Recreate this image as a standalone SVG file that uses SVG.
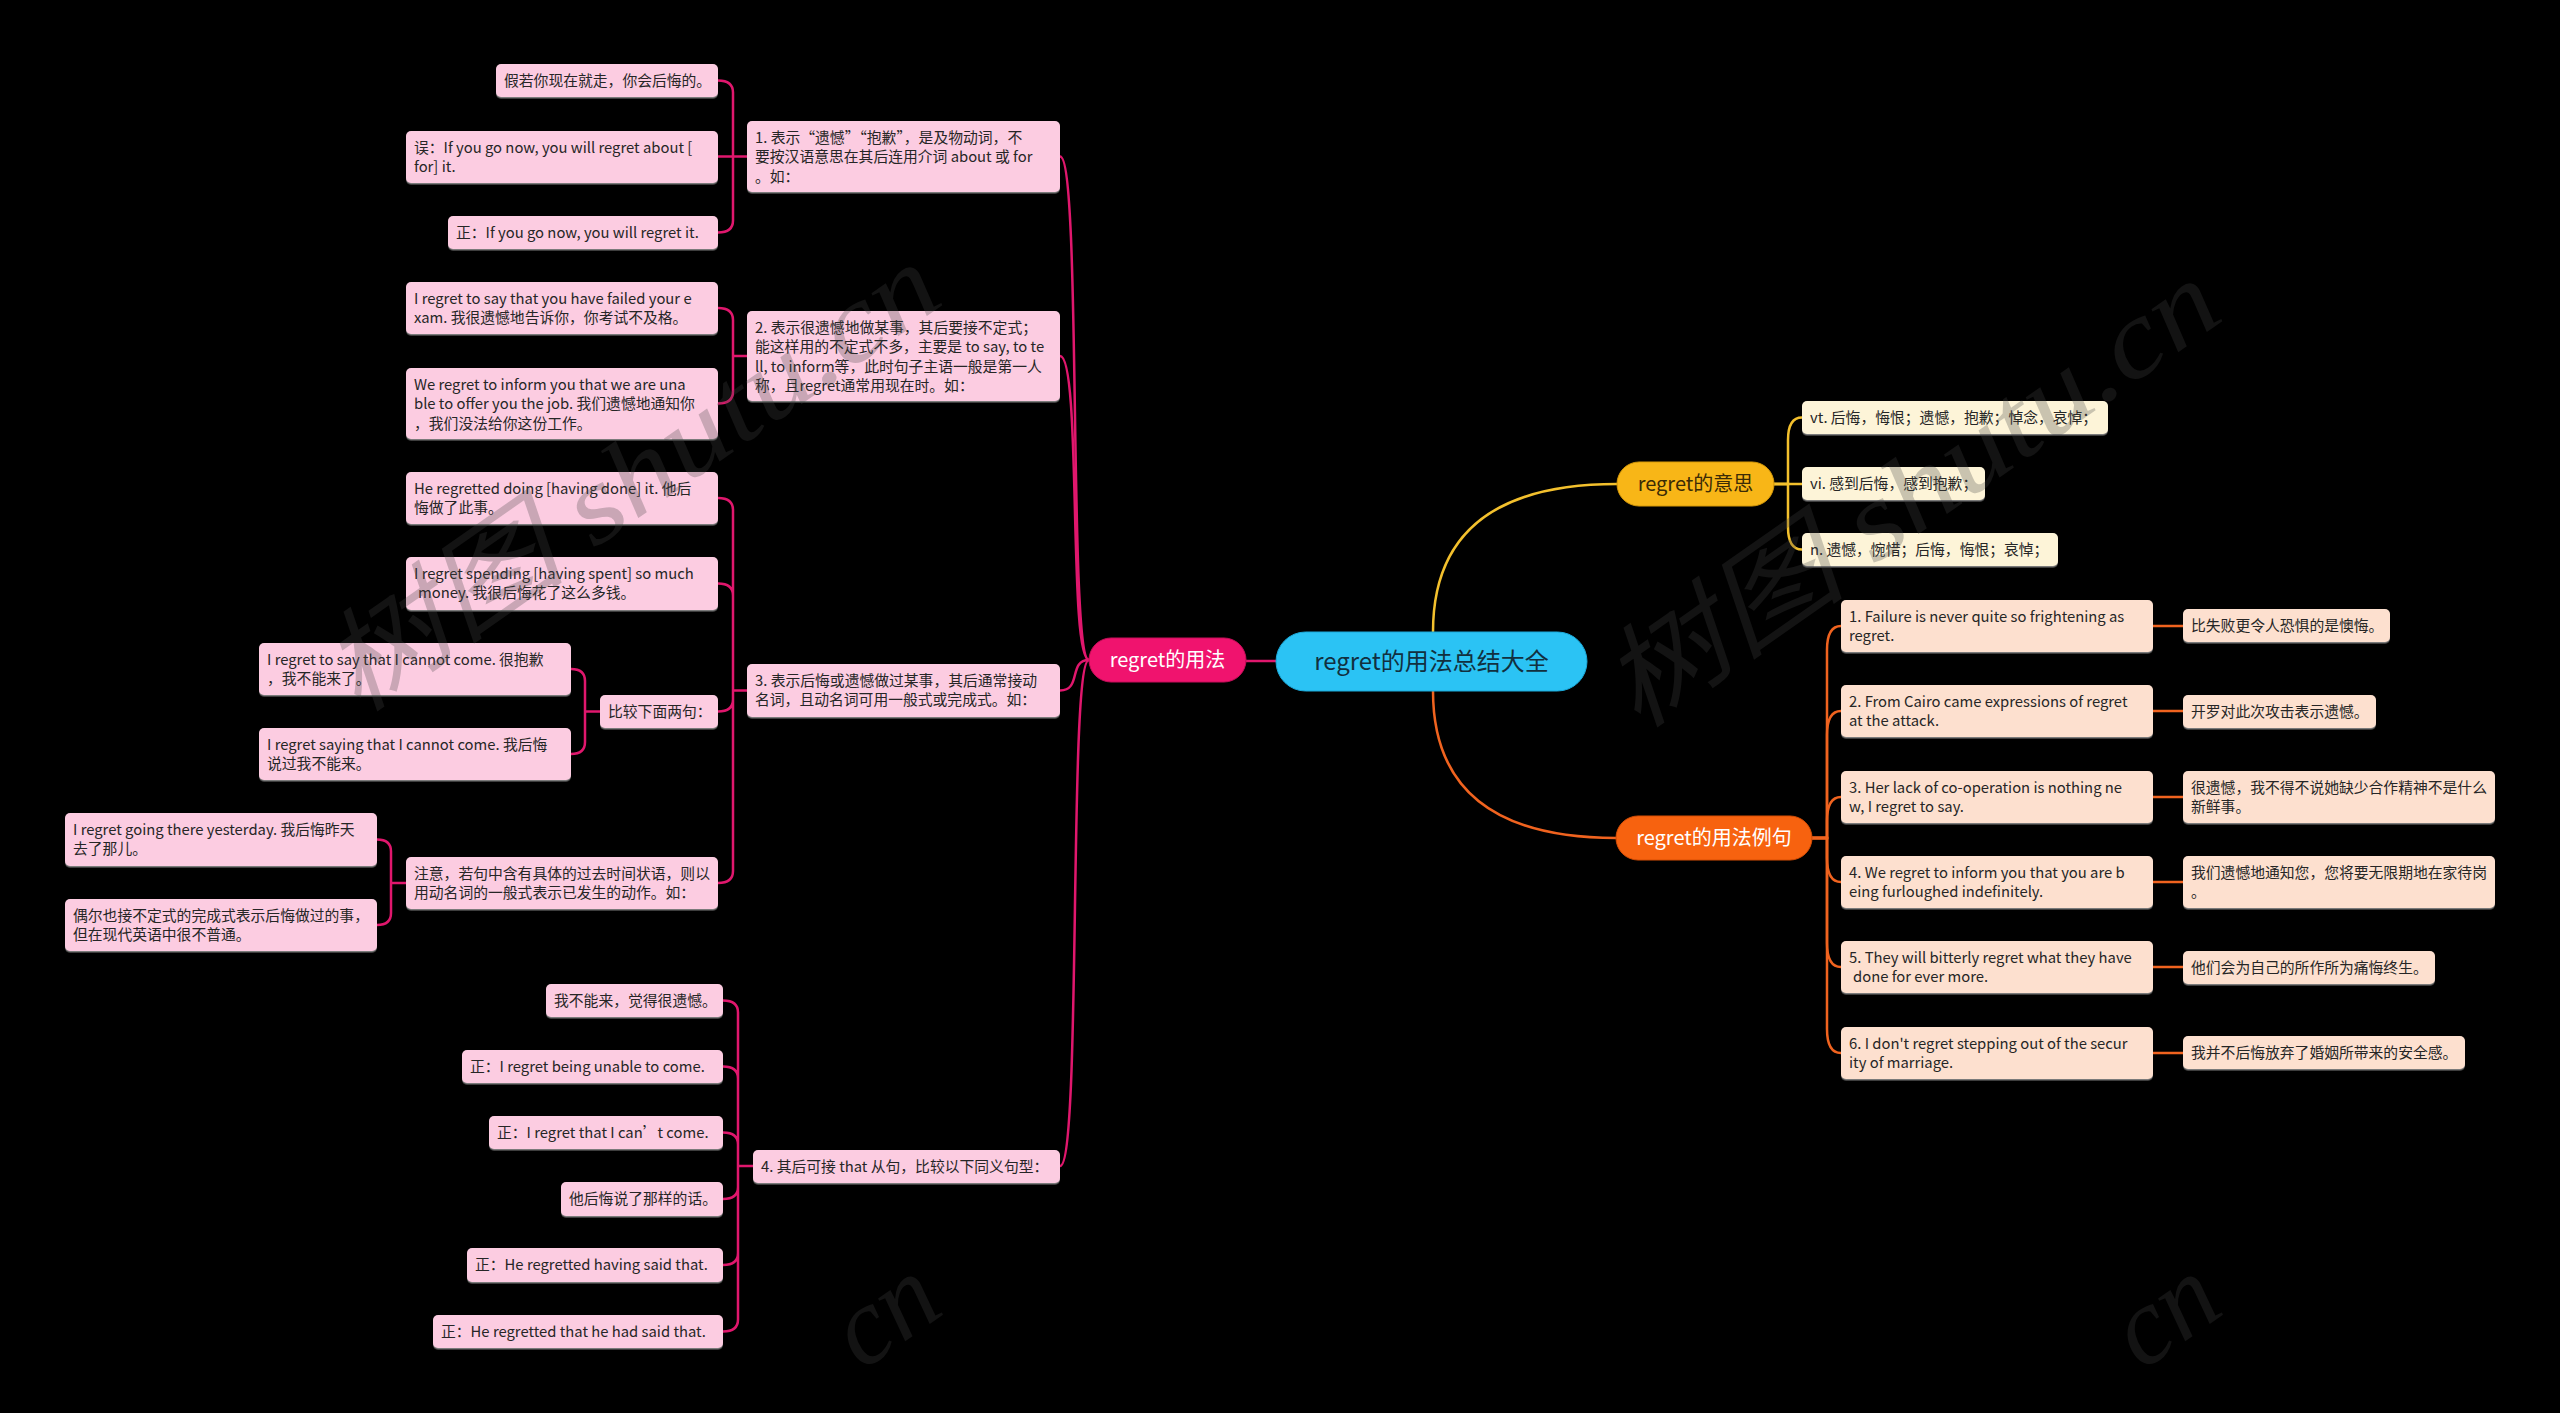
<svg xmlns="http://www.w3.org/2000/svg" width="2560" height="1413" viewBox="0 0 2560 1413">
<defs>
<filter id="sh" x="-5%" y="-10%" width="110%" height="130%"><feDropShadow dx="0" dy="1.5" stdDeviation="0.4" flood-color="#9a9a9a" flood-opacity="0.8"/></filter>
<style>
.t{font-family:"Noto Sans CJK SC","Noto Sans",sans-serif;font-size:14.8px;fill:#262626}
.big{font-family:"Noto Sans CJK SC","Noto Sans",sans-serif;text-anchor:middle}
.pk{fill:#fccce1;filter:url(#sh)}
.pe{fill:#fde0cf;filter:url(#sh)}
.cr{fill:#fdf4d8;filter:url(#sh)}
.lm{fill:none;stroke:#e0176d;stroke-width:2.5}
.lo{fill:none;stroke:#f0631f;stroke-width:2.5}
.ly{fill:none;stroke:#f3c02d;stroke-width:2.5}
.wm{font-family:"Liberation Serif","Noto Sans CJK SC",serif;font-style:italic;font-size:110px;fill:#444;fill-opacity:0.28}
</style>
</defs>
<rect x="0" y="0" width="2560" height="1413" fill="#000"/>

<g id="connectors">
<path class="lm" d="M1276,661 H1246"/>
<path class="ly" d="M1433,632 Q1433,484 1617,484"/>
<path class="lo" d="M1433,691 Q1433,838 1616,838"/>
<path class="ly" d="M1774,484 H1788 V440 Q1788,417.5 1802,417.5"/>
<path class="ly" d="M1774,484 H1802"/>
<path class="ly" d="M1774,484 H1788 V527 Q1788,549.5 1802,549.5"/>
<path class="lo" d="M1812,838 H1827 V650 Q1827,626 1841,626"/>
<path class="lo" d="M1812,838 H1827 V735 Q1827,711 1841,711"/>
<path class="lo" d="M1812,838 H1827 V821 Q1827,797 1841,797"/>
<path class="lo" d="M1812,838 H1827 V858 Q1827,882 1841,882"/>
<path class="lo" d="M1812,838 H1827 V943 Q1827,967 1841,967"/>
<path class="lo" d="M1812,838 H1827 V1029 Q1827,1053 1841,1053"/>
<path class="lo" d="M2153,626 H2183 M2153,711 H2183 M2153,797 H2183 M2153,882 H2183 M2153,967 H2183 M2153,1053 H2183"/>
<path class="lm" d="M1089,660 C1068,660 1082,156.5 1060,156.5"/>
<path class="lm" d="M1089,660 C1068,660 1082,356 1060,356"/>
<path class="lm" d="M1089,660 C1068,660 1082,690.5 1060,690.5"/>
<path class="lm" d="M1089,660 C1068,660 1082,1166 1060,1166"/>
<path class="lm" d="M747,156.5 H733 V92.5 Q733,80.5 718,80.5 M747,156.5 H718 M747,156.5 H733 V220.5 Q733,232.5 718,232.5"/>
<path class="lm" d="M747,356 H733 V320 Q733,308 718,308 M747,356 H733 V391.5 Q733,403.5 718,403.5"/>
<path class="lm" d="M747,690.5 H733 V510 Q733,498 718,498 M747,690.5 H733 V595.5 Q733,583.5 718,583.5 M747,690.5 H733 V699.5 Q733,711.5 718,711.5 M747,690.5 H733 V871 Q733,883 718,883"/>
<path class="lm" d="M600,711.5 H585 V681 Q585,669 571,669 M600,711.5 H585 V742 Q585,754 571,754"/>
<path class="lm" d="M406,883 H391 V851.5 Q391,839.5 377,839.5 M406,883 H391 V913 Q391,925 377,925"/>
<path class="lm" d="M753,1166 H738 V1012.5 Q738,1000.5 723,1000.5 M753,1166 H738 V1078.5 Q738,1066.5 723,1066.5 M753,1166 H738 V1144.5 Q738,1132.5 723,1132.5 M753,1166 H738 V1187 Q738,1199 723,1199 M753,1166 H738 V1253 Q738,1265 723,1265 M753,1166 H738 V1319.5 Q738,1331.5 723,1331.5"/>
</g>

<g id="root"><rect x="1276" y="632" width="311" height="59" rx="29.5" fill="#2bc3f4" stroke="#1ba9da" stroke-width="1"/><text class="big" x="1431.5" y="670" style="font-size:24px;fill:#12303f">regret的用法总结大全</text></g>
<g id="usage"><rect x="1089" y="638" width="157" height="44" rx="22" fill="#f0136e" stroke="#c80f5a" stroke-width="1"/><text class="big" x="1167.5" y="667" style="font-size:20px;fill:#ffffff">regret的用法</text></g>
<g id="meaning"><rect x="1617" y="462" width="157" height="44" rx="22" fill="#f8b617" stroke="#d89a08" stroke-width="1"/><text class="big" x="1695.5" y="491" style="font-size:20px;fill:#3b2b06">regret的意思</text></g>
<g id="examples"><rect x="1616" y="816" width="196" height="44" rx="22" fill="#f7620f" stroke="#d84e05" stroke-width="1"/><text class="big" x="1714" y="845" style="font-size:20px;fill:#ffffff">regret的用法例句</text></g>

<g id="m1"><rect class="cr" x="1802" y="401" width="306" height="33" rx="5"/><text class="t" x="1810" y="422.5">vt. 后悔，悔恨；遗憾，抱歉；悼念，哀悼；</text></g>
<g id="m2"><rect class="cr" x="1802" y="467" width="183" height="33" rx="5"/><text class="t" x="1810" y="488.5">vi. 感到后悔，感到抱歉；</text></g>
<g id="m3"><rect class="cr" x="1802" y="533" width="256" height="33" rx="5"/><text class="t" x="1810" y="554.5">n. 遗憾，惋惜；后悔，悔恨；哀悼；</text></g>

<g id="e1"><rect class="pe" x="1841" y="600" width="312" height="52" rx="5"/><text class="t"><tspan x="1849" y="621.5">1. Failure is never quite so frightening as</tspan><tspan x="1849" y="641">regret.</tspan></text></g>
<g id="e2"><rect class="pe" x="1841" y="685" width="312" height="52" rx="5"/><text class="t"><tspan x="1849" y="706.5">2. From Cairo came expressions of regret</tspan><tspan x="1849" y="726">at the attack.</tspan></text></g>
<g id="e3"><rect class="pe" x="1841" y="771" width="312" height="52" rx="5"/><text class="t"><tspan x="1849" y="792.5">3. Her lack of co-operation is nothing ne</tspan><tspan x="1849" y="812">w, I regret to say.</tspan></text></g>
<g id="e4"><rect class="pe" x="1841" y="856" width="312" height="52" rx="5"/><text class="t"><tspan x="1849" y="877.5">4. We regret to inform you that you are b</tspan><tspan x="1849" y="897">eing furloughed indefinitely.</tspan></text></g>
<g id="e5"><rect class="pe" x="1841" y="941" width="312" height="52" rx="5"/><text class="t"><tspan x="1849" y="962.5">5. They will bitterly regret what they have</tspan><tspan x="1853" y="982">done for ever more.</tspan></text></g>
<g id="e6"><rect class="pe" x="1841" y="1027" width="312" height="52" rx="5"/><text class="t"><tspan x="1849" y="1048.5">6. I don't regret stepping out of the secur</tspan><tspan x="1849" y="1068">ity of marriage.</tspan></text></g>

<g id="t1"><rect class="pe" x="2183" y="609" width="207" height="33" rx="5"/><text class="t" x="2191" y="630.5">比失败更令人恐惧的是懊悔。</text></g>
<g id="t2"><rect class="pe" x="2183" y="695" width="193" height="33" rx="5"/><text class="t" x="2191" y="716.5">开罗对此次攻击表示遗憾。</text></g>
<g id="t3"><rect class="pe" x="2183" y="771" width="312" height="52" rx="5"/><text class="t"><tspan x="2191" y="792.5">很遗憾，我不得不说她缺少合作精神不是什么</tspan><tspan x="2191" y="812">新鲜事。</tspan></text></g>
<g id="t4"><rect class="pe" x="2183" y="856" width="312" height="52" rx="5"/><text class="t"><tspan x="2191" y="877.5">我们遗憾地通知您，您将要无限期地在家待岗</tspan><tspan x="2191" y="897">。</tspan></text></g>
<g id="t5"><rect class="pe" x="2183" y="951" width="252" height="33" rx="5"/><text class="t" x="2191" y="972.5">他们会为自己的所作所为痛悔终生。</text></g>
<g id="t6"><rect class="pe" x="2183" y="1036" width="282" height="33" rx="5"/><text class="t" x="2191" y="1057.5">我并不后悔放弃了婚姻所带来的安全感。</text></g>

<g id="n1"><rect class="pk" x="747" y="121" width="313" height="71" rx="5"/><text class="t"><tspan x="755" y="142.5">1. 表示“遗憾”“抱歉”，是及物动词，不</tspan><tspan x="755" y="162">要按汉语意思在其后连用介词 about 或 for</tspan><tspan x="755" y="181.5">。如：</tspan></text></g>
<g id="n1a"><rect class="pk" x="496" y="64" width="222" height="33" rx="5"/><text class="t" x="504" y="85.5">假若你现在就走，你会后悔的。</text></g>
<g id="n1b"><rect class="pk" x="406" y="131" width="312" height="52" rx="5"/><text class="t"><tspan x="414" y="152.5">误：If you go now, you will regret about [</tspan><tspan x="414" y="172">for] it.</tspan></text></g>
<g id="n1c"><rect class="pk" x="448" y="216" width="270" height="33" rx="5"/><text class="t" x="456" y="237.5">正：If you go now, you will regret it.</text></g>

<g id="n2"><rect class="pk" x="747" y="311" width="313" height="90" rx="5"/><text class="t"><tspan x="755" y="332.5">2. 表示很遗憾地做某事，其后要接不定式；</tspan><tspan x="755" y="352">能这样用的不定式不多，主要是 to say, to te</tspan><tspan x="755" y="371.5">ll, to inform等，此时句子主语一般是第一人</tspan><tspan x="755" y="391">称，且regret通常用现在时。如：</tspan></text></g>
<g id="n2a"><rect class="pk" x="406" y="282" width="312" height="52" rx="5"/><text class="t"><tspan x="414" y="303.5">I regret to say that you have failed your e</tspan><tspan x="414" y="323">xam. 我很遗憾地告诉你，你考试不及格。</tspan></text></g>
<g id="n2b"><rect class="pk" x="406" y="368" width="312" height="71" rx="5"/><text class="t"><tspan x="414" y="389.5">We regret to inform you that we are una</tspan><tspan x="414" y="409">ble to offer you the job. 我们遗憾地通知你</tspan><tspan x="414" y="428.5">，我们没法给你这份工作。</tspan></text></g>

<g id="n3"><rect class="pk" x="747" y="664" width="313" height="53" rx="5"/><text class="t"><tspan x="755" y="685.5">3. 表示后悔或遗憾做过某事，其后通常接动</tspan><tspan x="755" y="705">名词，且动名词可用一般式或完成式。如：</tspan></text></g>
<g id="n3a"><rect class="pk" x="406" y="472" width="312" height="52" rx="5"/><text class="t"><tspan x="414" y="493.5">He regretted doing [having done] it. 他后</tspan><tspan x="414" y="513">悔做了此事。</tspan></text></g>
<g id="n3b"><rect class="pk" x="406" y="557" width="312" height="53" rx="5"/><text class="t"><tspan x="414" y="578.5">I regret spending [having spent] so much</tspan><tspan x="418" y="598">money. 我很后悔花了这么多钱。</tspan></text></g>
<g id="n3c"><rect class="pk" x="600" y="695" width="118" height="33" rx="5"/><text class="t" x="608" y="716.5">比较下面两句：</text></g>
<g id="n3c1"><rect class="pk" x="259" y="643" width="312" height="52" rx="5"/><text class="t"><tspan x="267" y="664.5">I regret to say that I cannot come. 很抱歉</tspan><tspan x="267" y="684">，我不能来了。</tspan></text></g>
<g id="n3c2"><rect class="pk" x="259" y="728" width="312" height="52" rx="5"/><text class="t"><tspan x="267" y="749.5">I regret saying that I cannot come. 我后悔</tspan><tspan x="267" y="769">说过我不能来。</tspan></text></g>
<g id="n3d"><rect class="pk" x="406" y="857" width="312" height="52" rx="5"/><text class="t"><tspan x="414" y="878.5">注意，若句中含有具体的过去时间状语，则以</tspan><tspan x="414" y="898">用动名词的一般式表示已发生的动作。如：</tspan></text></g>
<g id="n3d1"><rect class="pk" x="65" y="813" width="312" height="53" rx="5"/><text class="t"><tspan x="73" y="834.5">I regret going there yesterday. 我后悔昨天</tspan><tspan x="73" y="854">去了那儿。</tspan></text></g>
<g id="n3d2"><rect class="pk" x="65" y="899" width="312" height="52" rx="5"/><text class="t"><tspan x="73" y="920.5">偶尔也接不定式的完成式表示后悔做过的事，</tspan><tspan x="73" y="940">但在现代英语中很不普通。</tspan></text></g>

<g id="n4"><rect class="pk" x="753" y="1150" width="307" height="33" rx="5"/><text class="t" x="761" y="1171.5">4. 其后可接 that 从句，比较以下同义句型：</text></g>
<g id="n4a"><rect class="pk" x="546" y="984" width="177" height="33" rx="5"/><text class="t" x="554" y="1005.5">我不能来，觉得很遗憾。</text></g>
<g id="n4b"><rect class="pk" x="462" y="1050" width="261" height="33" rx="5"/><text class="t" x="470" y="1071.5">正：I regret being unable to come.</text></g>
<g id="n4c"><rect class="pk" x="489" y="1116" width="234" height="33" rx="5"/><text class="t" x="497" y="1137.5">正：I regret that I can’t come.</text></g>
<g id="n4d"><rect class="pk" x="561" y="1182" width="162" height="34" rx="5"/><text class="t" x="569" y="1204">他后悔说了那样的话。</text></g>
<g id="n4e"><rect class="pk" x="467" y="1248" width="256" height="34" rx="5"/><text class="t" x="475" y="1270">正：He regretted having said that.</text></g>
<g id="n4f"><rect class="pk" x="433" y="1315" width="290" height="33" rx="5"/><text class="t" x="441" y="1336.5">正：He regretted that he had said that.</text></g>

<g id="watermarks">
<text class="wm" transform="translate(947,302) rotate(-35)" text-anchor="end" textLength="720" lengthAdjust="spacingAndGlyphs">树图 shutu.cn</text>
<text class="wm" transform="translate(2227,318) rotate(-35)" text-anchor="end" textLength="720" lengthAdjust="spacingAndGlyphs">树图 shutu.cn</text>
<text class="wm" transform="translate(947,1312) rotate(-35)" text-anchor="end">cn</text>
<text class="wm" transform="translate(2227,1312) rotate(-35)" text-anchor="end">cn</text>
</g>
</svg>
